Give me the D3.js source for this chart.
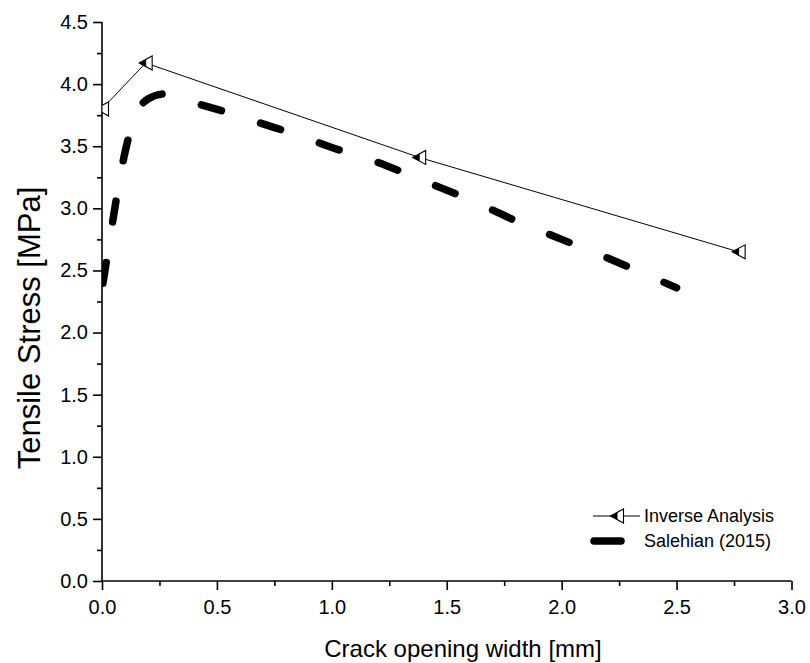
<!DOCTYPE html>
<html>
<head>
<meta charset="utf-8">
<script src="https://cdn.jsdelivr.net/npm/d3@7"></script>
<style>
  body { margin: 0; background: #fff; }
  svg { display: block; font-family: Arial, "Liberation Sans", sans-serif; }
</style>
</head>
<body>
<svg id="chart" width="810" height="663"></svg>
<script>
// ---- data ----
const inverseX = [0.0, 0.19, 1.38, 2.77];
const inverseY = [3.80, 4.17, 3.41, 2.65];
const salehianX = [0.0, 0.03, 0.06, 0.10, 0.14, 0.20, 0.27, 0.42, 0.55, 0.70, 0.85, 1.00, 1.20, 1.40, 1.60, 1.80, 2.00, 2.20, 2.40, 2.50];
const salehianY = [2.35, 2.70, 3.05, 3.45, 3.72, 3.88, 3.92, 3.84, 3.77, 3.68, 3.59, 3.49, 3.37, 3.22, 3.07, 2.90, 2.75, 2.60, 2.44, 2.36];
const xMajorTicks = [0.0, 0.5, 1.0, 1.5, 2.0, 2.5, 3.0];
const xMinorTicks = [0.25, 0.75, 1.25, 1.75, 2.25, 2.75];
const yMajorTicks = [0.0, 0.5, 1.0, 1.5, 2.0, 2.5, 3.0, 3.5, 4.0, 4.5];
const yMinorTicks = [0.25, 0.75, 1.25, 1.75, 2.25, 2.75, 3.25, 3.75, 4.25];
const seriesNames = ["Inverse Analysis", "Salehian (2015)"];
const xTitle = "Crack opening width [mm]";
const yTitle = "Tensile Stress [MPa]";

// ---- layout ----
const X0 = 102, X1 = 791.5, Y0 = 581, Y1 = 22;
const svg = d3.select("#chart");
const x = d3.scaleLinear().domain([0, 3]).range([X0, X1]);
const y = d3.scaleLinear().domain([0, 4.5]).range([Y0, Y1]);

svg.append("defs").append("clipPath").attr("id", "plotclip")
  .append("rect").attr("x", X0).attr("y", 0).attr("width", X1 - X0 + 20).attr("height", Y0);

// axes
const fmt = d3.format(".1f");
const xAxis = svg.append("g").attr("transform", `translate(0,${Y0})`)
  .call(d3.axisBottom(x).tickValues(xMajorTicks).tickFormat(fmt).tickSize(9).tickPadding(10));
svg.append("g").attr("transform", `translate(0,${Y0})`)
  .call(d3.axisBottom(x).tickValues(xMinorTicks).tickFormat("").tickSize(5))
  .select(".domain").remove();
const yAxis = svg.append("g").attr("transform", `translate(${X0},0)`)
  .call(d3.axisLeft(y).tickValues(yMajorTicks).tickFormat(fmt).tickSize(9).tickPadding(5));
svg.append("g").attr("transform", `translate(${X0},0)`)
  .call(d3.axisLeft(y).tickValues(yMinorTicks).tickFormat("").tickSize(5))
  .select(".domain").remove();

svg.selectAll(".domain").attr("stroke", "#000").attr("stroke-width", 1.6);
svg.selectAll(".tick line").attr("stroke", "#000").attr("stroke-width", 1.6);
svg.selectAll(".tick text").attr("font-size", 20).attr("fill", "#000")
  .attr("font-family", "Arial, 'Liberation Sans', sans-serif");
xAxis.select(".domain").attr("d", `M${X0},0H${X1}`);
yAxis.select(".domain").attr("d", `M0,${Y0}V${Y1}`);

// titles
svg.append("text").attr("x", 463).attr("y", 657)
  .attr("text-anchor", "middle").attr("font-size", 24).text(xTitle);
svg.append("text").attr("transform", `translate(40,328) rotate(-90)`)
  .attr("text-anchor", "middle").attr("font-size", 31).text(yTitle);

const plot = svg.append("g").attr("clip-path", "url(#plotclip)");

// Salehian dashed line
const salData = salehianX.map((v, i) => [v, salehianY[i]]);
const line = d3.line().x(d => x(d[0])).y(d => y(d[1])).curve(d3.curveMonotoneX);
plot.append("path").attr("d", line(salData))
  .attr("fill", "none").attr("stroke", "#000").attr("stroke-width", 7.5)
  .attr("stroke-linecap", "round").attr("stroke-dasharray", "21 41")
  .attr("stroke-dashoffset", -6);

// Inverse line + markers
const invData = inverseX.map((v, i) => [v, inverseY[i]]);
plot.append("path").attr("d", d3.line().x(d => x(d[0])).y(d => y(d[1]))(invData))
  .attr("fill", "none").attr("stroke", "#000").attr("stroke-width", 1);

function marker(g, cx, cy) {
  const m = g.append("g").attr("transform", `translate(${cx},${cy})`);
  m.append("path").attr("d", "M-6.5,0L6.5,-7L6.5,7Z").attr("fill", "#fff");
  m.append("path").attr("d", "M-6.5,0L0,-3.5L0,3.5Z").attr("fill", "#000");
  m.append("path").attr("d", "M-6.5,0L6.5,-7L6.5,7Z").attr("fill", "none")
    .attr("stroke", "#000").attr("stroke-width", 1.1).attr("stroke-linejoin", "miter");
  m.append("line").attr("x1", 0).attr("x2", 0).attr("y1", -3.5).attr("y2", 3.5)
    .attr("stroke", "#000").attr("stroke-width", 1);
}
invData.forEach(d => marker(plot, x(d[0]), y(d[1])));

// legend
const lg = svg.append("g");
lg.append("line").attr("x1", 593).attr("x2", 640).attr("y1", 516).attr("y2", 516)
  .attr("stroke", "#000").attr("stroke-width", 1);
marker(lg, 617, 516);
lg.append("text").attr("x", 644).attr("y", 516).attr("dy", "0.35em")
  .attr("font-size", 18).text(seriesNames[0]);
lg.append("line").attr("x1", 594).attr("x2", 621).attr("y1", 541).attr("y2", 541)
  .attr("stroke", "#000").attr("stroke-width", 7.5).attr("stroke-linecap", "round");
lg.append("text").attr("x", 644).attr("y", 541).attr("dy", "0.35em")
  .attr("font-size", 18).text(seriesNames[1]);
</script>
</body>
</html>
